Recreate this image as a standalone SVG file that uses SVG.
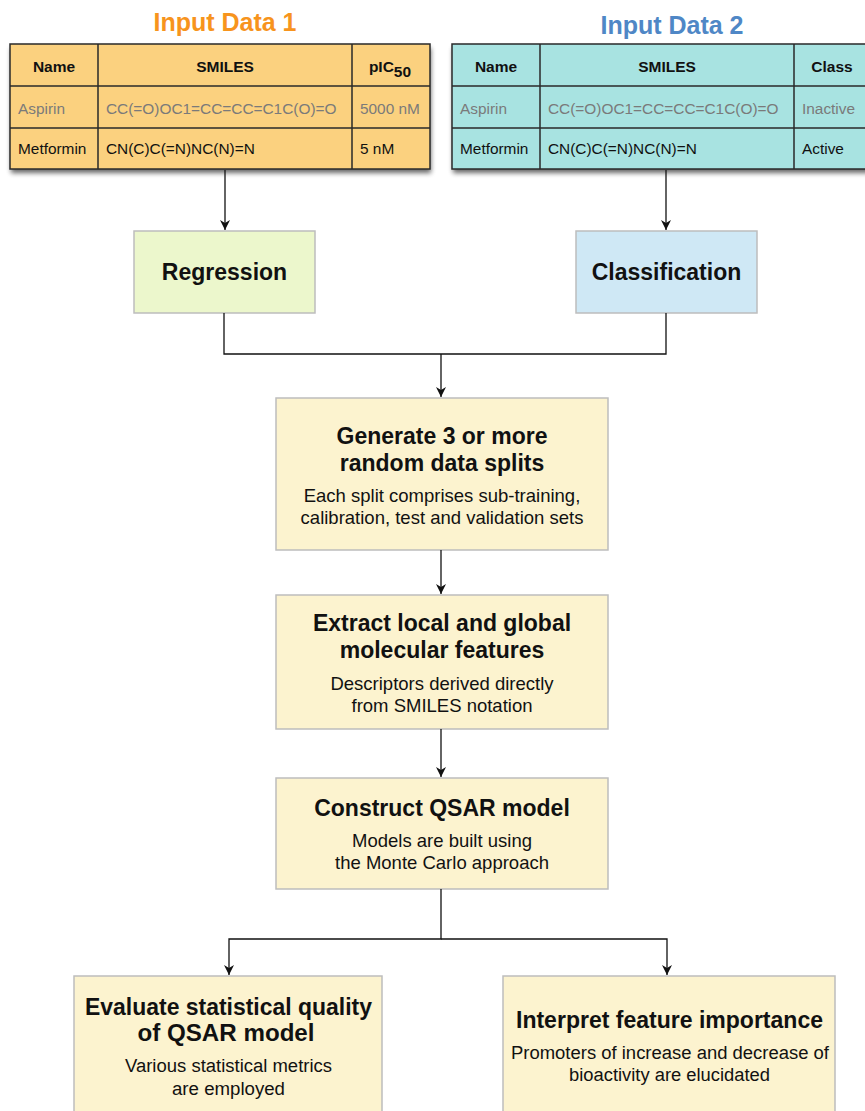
<svg xmlns="http://www.w3.org/2000/svg" width="865" height="1111" viewBox="0 0 865 1111">
  <defs>
    <filter id="shadow" x="-5%" y="-10%" width="115%" height="130%">
      <feGaussianBlur in="SourceAlpha" stdDeviation="2.5"/>
      <feOffset dx="1" dy="4" result="b"/>
      <feComponentTransfer><feFuncA type="linear" slope="0.6"/></feComponentTransfer>
      <feMerge><feMergeNode/><feMergeNode in="SourceGraphic"/></feMerge>
    </filter>
    <marker id="arrow" viewBox="0 0 10 10" refX="10" refY="5" markerWidth="10" markerHeight="10" markerUnits="userSpaceOnUse" orient="auto">
      <path d="M0,0 L10,5 L0,10 L3,5 Z" fill="#111"/>
    </marker>
  </defs>
  <style>
    text { font-family: "Liberation Sans", Arial, sans-serif; }
    .title { font-size: 25px; font-weight: bold; text-anchor: middle; }
    .th { font-size: 15.5px; font-weight: bold; text-anchor: middle; fill: #111; }
    .td { font-size: 15.4px; fill: #111; }
    .muted { fill: #7a7a7a; }
    .grid { stroke: #2a2a2a; stroke-width: 1.5; fill: none; }
    .box { stroke: #bdbdbd; stroke-width: 1.5; }
    .step { fill: #fcf3cf; }
    .h { font-size: 23px; font-weight: bold; text-anchor: middle; fill: #111; }
    .s { font-size: 18.5px; text-anchor: middle; fill: #111; }
    .hn { font-size: 23px; font-weight: bold; text-anchor: middle; fill: #111; }
    .sn { font-size: 18px; text-anchor: middle; fill: #111; }
    .conn { stroke: #111; stroke-width: 1.3; fill: none; }
  </style>

  <!-- Input table 1 -->
  <g id="input1">
    <text class="title" x="225" y="31" fill="#f7941d">Input Data 1</text>
    <rect x="10" y="44" width="420" height="125" fill="#fbd17f" filter="url(#shadow)"/>
    <rect class="grid" x="10" y="44" width="420" height="125"/>
    <path class="grid" d="M98,44V169 M352,44V169 M10,86H430 M10,128H430"/>
    <text class="th" x="54" y="72">Name</text>
    <text class="th" x="225" y="72">SMILES</text>
    <text class="th" x="390" y="72">pIC<tspan font-size="15.5" dy="5">50</tspan></text>
    <text class="td muted" x="18" y="114">Aspirin</text>
    <text class="td muted" x="106" y="114">CC(=O)OC1=CC=CC=C1C(O)=O</text>
    <text class="td muted" x="360" y="114">5000 nM</text>
    <text class="td" x="18" y="154">Metformin</text>
    <text class="td" x="106" y="154">CN(C)C(=N)NC(N)=N</text>
    <text class="td" x="360" y="154">5 nM</text>
  </g>

  <!-- Input table 2 -->
  <g id="input2">
    <text class="title" x="672" y="34" fill="#4f87c6">Input Data 2</text>
    <rect x="452" y="44" width="430" height="125" fill="#a8e3e1" filter="url(#shadow)"/>
    <rect class="grid" x="452" y="44" width="430" height="125"/>
    <path class="grid" d="M540,44V169 M794,44V169 M452,86H882 M452,128H882"/>
    <text class="th" x="496" y="72">Name</text>
    <text class="th" x="667" y="72">SMILES</text>
    <text class="th" x="832" y="72">Class</text>
    <text class="td muted" x="460" y="114">Aspirin</text>
    <text class="td muted" x="548" y="114">CC(=O)OC1=CC=CC=C1C(O)=O</text>
    <text class="td muted" x="802" y="114">Inactive</text>
    <text class="td" x="460" y="154">Metformin</text>
    <text class="td" x="548" y="154">CN(C)C(=N)NC(N)=N</text>
    <text class="td" x="802" y="154">Active</text>
  </g>

  <g id="regression">
    <rect class="box" x="134" y="231" width="181" height="82" fill="#ecf7cc"/>
    <text class="h" x="224.5" y="280">Regression</text>
  </g>

  <g id="classification">
    <rect class="box" x="576" y="231" width="181" height="82" fill="#cfe8f5"/>
    <text class="h" x="666.5" y="280">Classification</text>
  </g>

  <g id="splits">
    <rect class="box step" x="276" y="398" width="332" height="152"/>
    <text class="h" x="442" y="444">Generate 3 or more</text>
    <text class="h" x="442" y="471">random data splits</text>
    <text class="s" x="442" y="502">Each split comprises sub-training,</text>
    <text class="s" x="442" y="524">calibration, test and validation sets</text>
  </g>

  <g id="features">
    <rect class="box step" x="276" y="595" width="332" height="134"/>
    <text class="h" x="442" y="631">Extract local and global</text>
    <text class="h" x="442" y="658">molecular features</text>
    <text class="s" x="442" y="690">Descriptors derived directly</text>
    <text class="s" x="442" y="712">from SMILES notation</text>
  </g>

  <g id="model">
    <rect class="box step" x="276" y="778" width="332" height="111"/>
    <text class="h" x="442" y="816">Construct QSAR model</text>
    <text class="s" x="442" y="847">Models are built using</text>
    <text class="s" x="442" y="869">the Monte Carlo approach</text>
  </g>

  <g id="evaluate">
    <rect class="box step" x="74" y="976" width="308" height="145"/>
    <text class="hn" x="228.5" y="1015" textLength="287" lengthAdjust="spacingAndGlyphs">Evaluate statistical quality</text>
    <text class="hn" x="226" y="1041" textLength="177" lengthAdjust="spacingAndGlyphs">of QSAR model</text>
    <text class="sn" x="228.5" y="1072" textLength="207" lengthAdjust="spacingAndGlyphs">Various statistical metrics</text>
    <text class="sn" x="228.5" y="1095" textLength="113" lengthAdjust="spacingAndGlyphs">are employed</text>
  </g>

  <g id="interpret">
    <rect class="box step" x="503" y="976" width="332" height="145"/>
    <text class="hn" x="669.5" y="1028" textLength="307" lengthAdjust="spacingAndGlyphs">Interpret feature importance</text>
    <text class="sn" x="670" y="1059" textLength="318" lengthAdjust="spacingAndGlyphs">Promoters of increase and decrease of</text>
    <text class="sn" x="669.5" y="1081" textLength="201" lengthAdjust="spacingAndGlyphs">bioactivity are elucidated</text>
  </g>

  <!-- Connectors -->
  <g id="connectors">
    <path class="conn" d="M225,170V230" marker-end="url(#arrow)"/>
    <path class="conn" d="M666,170V230" marker-end="url(#arrow)"/>
    <path class="conn" d="M224,313V354H666V313"/>
    <path class="conn" d="M441,354V397" marker-end="url(#arrow)"/>
    <path class="conn" d="M441,550V594" marker-end="url(#arrow)"/>
    <path class="conn" d="M441,729V777" marker-end="url(#arrow)"/>
    <path class="conn" d="M441,889V939H229V975" marker-end="url(#arrow)"/>
    <path class="conn" d="M441,939H667V975" marker-end="url(#arrow)"/>
  </g>
</svg>
